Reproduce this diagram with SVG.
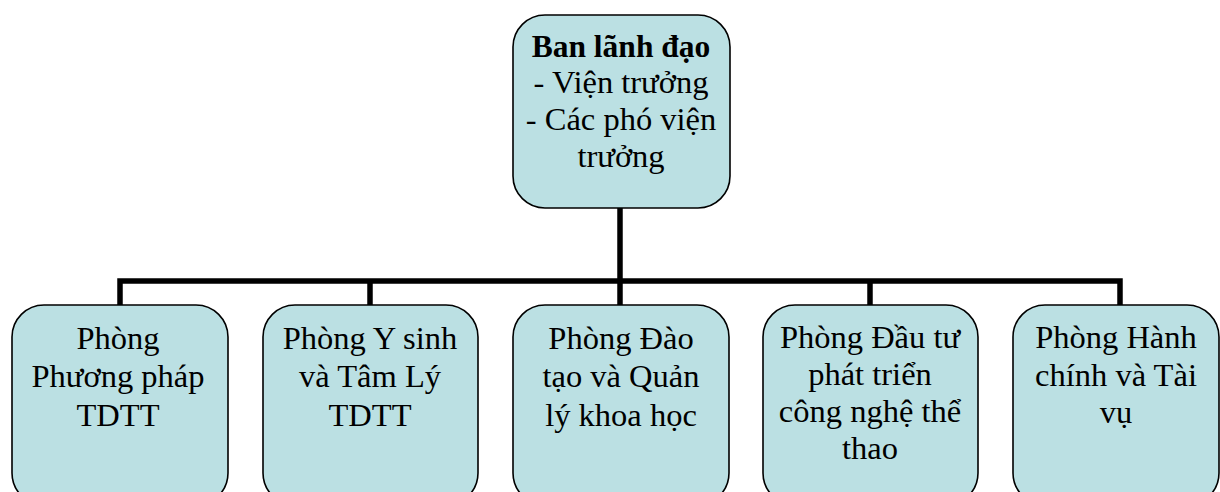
<svg xmlns="http://www.w3.org/2000/svg" width="1220" height="492" viewBox="0 0 1220 492">
<style>
.box{fill:#BBE0E3;stroke:#000;stroke-width:1.6}
.t{font-family:'Liberation Serif','Times New Roman','DejaVu Serif',serif;font-size:32.5px;fill:#000;text-anchor:middle}
.b{font-weight:bold;font-size:31.5px}
.c{fill:none;stroke:#000;stroke-width:5.5;stroke-linejoin:miter;stroke-linecap:butt}
</style>
<rect width="1220" height="492" fill="#fff"/>
<g id="connectors">
<path class="c" d="M620,208 V281"/>
<path class="c" d="M120,306 V281 H1120 V306"/>
<path class="c" d="M370,281 V306"/>
<path class="c" d="M620,281 V306"/>
<path class="c" d="M870,281 V306"/>
</g>
<g id="n0">
<rect class="box" x="513" y="15" width="217" height="193" rx="32"/>
<text class="t b" x="621" y="57">Ban lãnh đạo</text>
<text class="t" x="621" y="93">- Viện trưởng</text>
<text class="t" x="621" y="130">- Các phó viện</text>
<text class="t" x="621" y="167">trưởng</text>
</g>
<g id="n1">
<rect class="box" x="12" y="305" width="216" height="200" rx="32"/>
<text class="t" x="118" y="349">Phòng</text>
<text class="t" x="118" y="387">Phương pháp</text>
<text class="t" x="118" y="426">TDTT</text>
</g>
<g id="n2">
<rect class="box" x="263" y="305" width="215" height="200" rx="32"/>
<text class="t" x="370" y="349">Phòng Y sinh</text>
<text class="t" x="370" y="387">và Tâm Lý</text>
<text class="t" x="370" y="426">TDTT</text>
</g>
<g id="n3">
<rect class="box" x="513" y="305" width="216" height="200" rx="32"/>
<text class="t" x="621" y="349">Phòng Đào</text>
<text class="t" x="621" y="387">tạo và Quản</text>
<text class="t" x="621" y="426">lý khoa học</text>
</g>
<g id="n4">
<rect class="box" x="763" y="305" width="215" height="200" rx="32"/>
<text class="t" x="870" y="348">Phòng Đầu tư</text>
<text class="t" x="870" y="385">phát triển</text>
<text class="t" x="870" y="422">công nghệ thể</text>
<text class="t" x="870" y="459">thao</text>
</g>
<g id="n5">
<rect class="box" x="1013" y="305" width="206" height="200" rx="32"/>
<text class="t" x="1116" y="348">Phòng Hành</text>
<text class="t" x="1116" y="386">chính và Tài</text>
<text class="t" x="1116" y="423">vụ</text>
</g>
</svg>
